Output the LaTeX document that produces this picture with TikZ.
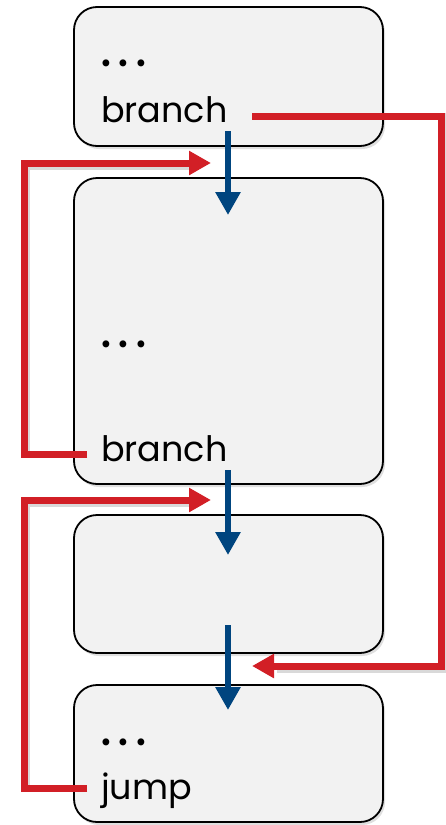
\documentclass[tikz,border=0pt]{standalone}
\usepackage{fontspec}
\setmainfont{Poppins}
\usetikzlibrary{arrows.meta,shadows}
\definecolor{boxfill}{HTML}{F2F2F2}
\definecolor{jred}{HTML}{D21F26}
\definecolor{jblue}{HTML}{00457F}
\newcommand{\dotsrow}{.\kern6pt.\kern6pt.}
\begin{document}
\begin{tikzpicture}[x=1pt,y=-1pt,
  blockbox/.style={draw=black,line width=1.8pt,fill=boxfill,rounded corners=23pt,
    drop shadow={opacity=0.25,shadow xshift=2pt,shadow yshift=-3pt}},
  code/.style={font=\fontsize{35}{40}\selectfont,anchor=base west,inner sep=0pt},
  dotrow/.style={font=\fontsize{56}{60}\selectfont,anchor=base west,inner sep=0pt},
  redarrow/.style={draw=jred,line width=7pt,-{Triangle[length=22pt,width=23pt]}},
  shadowline/.style={draw=black,opacity=0.15,line width=7pt},
  bluearrow/.style={draw=jblue,line width=6.5pt,-{Triangle[length=23pt,width=24pt]}}]
\useasboundingbox (0,0) rectangle (446,825);
% blocks
\path[blockbox] (74,7) rectangle (383,146);
\path[blockbox] (74,178) rectangle (383,484);
\path[blockbox] (74,515) rectangle (383,653);
\path[blockbox] (74,685) rectangle (383,822);
% text
\node[dotrow] (d1) at (100,66) {\dotsrow};
\node[code] (b1) at (101,122) {branch};
\node[dotrow] (d2) at (100,347) {\dotsrow};
\node[code] (b2) at (101,461) {branch};
\node[dotrow] (d4) at (100,745) {\dotsrow};
\node[code] (j4) at (101,799) {jump};
% coordinates for connectors
\coordinate (a1s) at (228,131);
\coordinate (a1e) at (228,215);
\coordinate (a2s) at (228,470);
\coordinate (a2e) at (228,555);
\coordinate (a3s) at (228,625);
\coordinate (a3e) at (228,710);
\coordinate (r1s) at (252,116);
\coordinate (r1e) at (252,666);
\coordinate (r2s) at (87,454);
\coordinate (r2e) at (211,163);
\coordinate (r3s) at (87,788);
\coordinate (r3e) at (211,500);
% soft shadows of red connectors
\begin{scope}[shift={(2,3)}]
\draw[shadowline] (r1s) -| (441,666) -- (275,666);
\draw[shadowline] (r2s) -| (24,163) -- (190,163);
\draw[shadowline] (r3s) -| (24,500) -- (190,500);
\end{scope}
% red connectors
\draw[redarrow] (r1s) -| (441,666) -- (r1e);
\draw[redarrow] (r2s) -| (24,163) -- (r2e);
\draw[redarrow] (r3s) -| (24,500) -- (r3e);
% blue fall-through arrows
\draw[bluearrow] (a1s) -- (a1e);
\draw[bluearrow] (a2s) -- (a2e);
\draw[bluearrow] (a3s) -- (a3e);
\end{tikzpicture}
\end{document}
